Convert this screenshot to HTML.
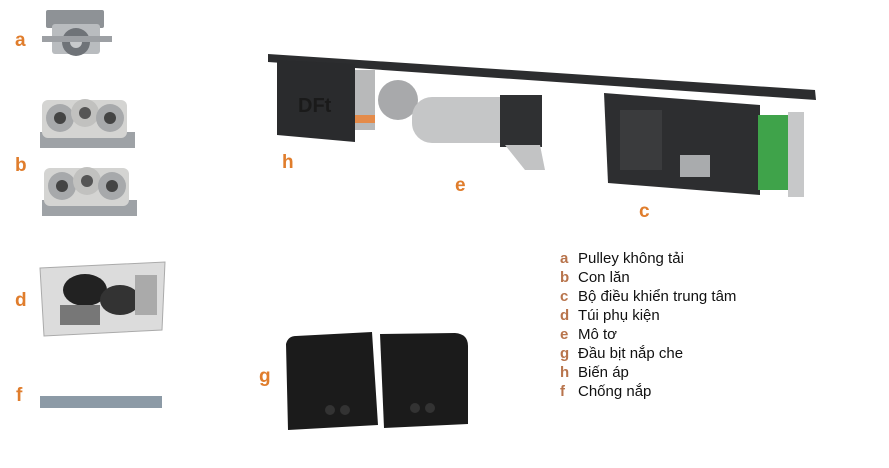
<!DOCTYPE html>
<html><head><meta charset="utf-8"><style>
html,body{margin:0;padding:0;background:#fff;}
svg{display:block}
.lbl{font-family:"Liberation Sans",sans-serif;font-size:19px;fill:#e07d2c;font-weight:bold}
.lg{font-family:"Liberation Sans","Noto Sans CJK SC",sans-serif;font-size:15px;fill:#111}
.lk{fill:#b8744c;font-weight:bold}
</style></head><body>
<svg width="889" height="468" viewBox="0 0 889 468" xmlns="http://www.w3.org/2000/svg">
<text class="lbl" x="15" y="46">a</text>
<text class="lbl" x="15" y="171">b</text>
<text class="lbl" x="15" y="306">d</text>
<text class="lbl" x="16" y="401">f</text>
<text class="lbl" x="259" y="382">g</text>
<text class="lbl" x="282" y="168">h</text>
<text class="lbl" x="455" y="191">e</text>
<text class="lbl" x="639" y="217">c</text>

<rect x="46" y="10" width="58" height="18" fill="#8e9296" rx="2"/>
<rect x="52" y="24" width="48" height="30" fill="#b9bcbf" rx="3"/>
<circle cx="76" cy="42" r="14" fill="#6f7378"/><circle cx="76" cy="42" r="6" fill="#c8cacc"/>
<rect x="42" y="36" width="70" height="6" fill="#9da0a4"/>

<g>
<rect x="40" y="132" width="95" height="16" fill="#9ea2a6"/>
<rect x="42" y="100" width="85" height="38" fill="#d4d4d2" rx="6"/>
<circle cx="60" cy="118" r="14" fill="#a7a9ab"/><circle cx="85" cy="113" r="14" fill="#c1c1bf"/><circle cx="110" cy="118" r="14" fill="#a7a9ab"/>
<circle cx="60" cy="118" r="6" fill="#444"/><circle cx="85" cy="113" r="6" fill="#555"/><circle cx="110" cy="118" r="6" fill="#444"/>
</g>
<g>
<rect x="42" y="200" width="95" height="16" fill="#9ea2a6"/>
<rect x="44" y="168" width="85" height="38" fill="#d4d4d2" rx="6"/>
<circle cx="62" cy="186" r="14" fill="#a7a9ab"/><circle cx="87" cy="181" r="14" fill="#c1c1bf"/><circle cx="112" cy="186" r="14" fill="#a7a9ab"/>
<circle cx="62" cy="186" r="6" fill="#444"/><circle cx="87" cy="181" r="6" fill="#555"/><circle cx="112" cy="186" r="6" fill="#444"/>
</g>

<path d="M40 268 L165 262 L162 330 L44 336 Z" fill="#dcdcdc" stroke="#aaa"/>
<ellipse cx="85" cy="290" rx="22" ry="16" fill="#222"/><ellipse cx="120" cy="300" rx="20" ry="15" fill="#333"/>
<rect x="60" y="305" width="40" height="20" fill="#777"/><rect x="135" y="275" width="22" height="40" fill="#aaa"/>

<rect x="40" y="396" width="122" height="12" fill="#8c9aa6"/>

<path d="M268 54 L815 90 L816 100 L268 62 Z" fill="#2c2d2f"/>
<path d="M277 60 L355 64 L355 142 L277 135 Z" fill="#2a2b2d"/>
<rect x="355" y="70" width="20" height="60" fill="#b8b9ba"/>
<rect x="355" y="115" width="20" height="8" fill="#e48b4a"/>
<text x="298" y="112" font-family="Liberation Sans" font-size="20" fill="#1a1a1a" font-weight="bold">DFt</text>
<circle cx="398" cy="100" r="20" fill="#a8a9ab"/>
<rect x="412" y="97" width="128" height="46" rx="20" fill="#c5c6c7"/>
<rect x="500" y="95" width="42" height="52" fill="#2f3032"/>
<path d="M505 145 L540 145 L545 170 L525 170 Z" fill="#c2c3c4"/>
<path d="M604 93 L760 105 L760 195 L608 183 Z" fill="#2d2e30"/>
<rect x="680" y="155" width="30" height="22" fill="#a9abad"/>
<rect x="758" y="115" width="30" height="75" fill="#3fa34a"/>
<rect x="788" y="112" width="16" height="85" fill="#c7c8c9"/>
<rect x="620" y="110" width="42" height="60" fill="#3a3b3d"/>

<path d="M286 344 Q288 336 296 336 L372 332 L378 425 L288 430 Z" fill="#1b1b1b"/>
<path d="M380 334 L455 333 Q468 334 468 346 L468 424 L384 428 Z" fill="#1b1b1b"/>
<circle cx="330" cy="410" r="5" fill="#333"/><circle cx="345" cy="410" r="5" fill="#333"/>
<circle cx="415" cy="408" r="5" fill="#333"/><circle cx="430" cy="408" r="5" fill="#333"/>

<g class="lg">
<text x="560" y="263"><tspan class="lk">a</tspan><tspan x="578">Pulley không tải</tspan></text>
<text x="560" y="282"><tspan class="lk">b</tspan><tspan x="578">Con lăn</tspan></text>
<text x="560" y="301"><tspan class="lk">c</tspan><tspan x="578">Bộ điều khiển trung tâm</tspan></text>
<text x="560" y="320"><tspan class="lk">d</tspan><tspan x="578">Túi phụ kiện</tspan></text>
<text x="560" y="339"><tspan class="lk">e</tspan><tspan x="578">Mô tơ</tspan></text>
<text x="560" y="358"><tspan class="lk">g</tspan><tspan x="578">Đầu bịt nắp che</tspan></text>
<text x="560" y="377"><tspan class="lk">h</tspan><tspan x="578">Biến áp</tspan></text>
<text x="560" y="396"><tspan class="lk">f</tspan><tspan x="578">Chống nắp</tspan></text>
</g>
</svg>
</body></html>
